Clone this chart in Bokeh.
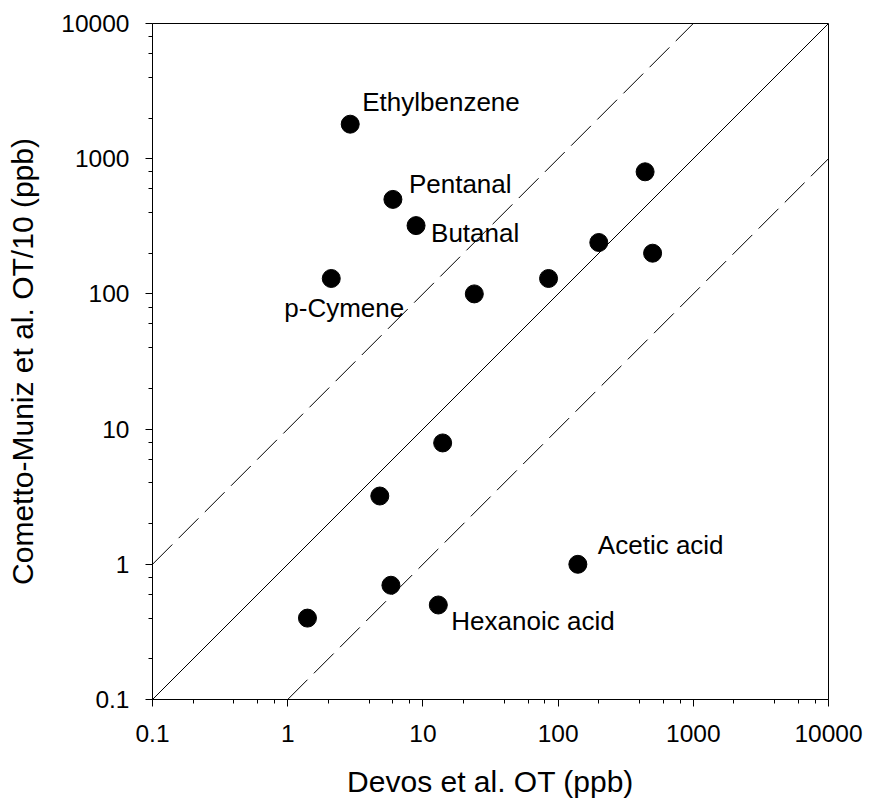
import math
from bokeh.plotting import figure
from bokeh.models import FixedTicker, ColumnDataSource, Range1d
from bokeh.core.properties import value
from bokeh.embed import file_html
from bokeh.resources import INLINE

# ---- data ----
compound = ["Ethylbenzene", "Pentanal", "Butanal", "p-Cymene", "", "", "", "", "",
            "", "", "", "Hexanoic acid", "Acetic acid", ""]
devos_ot = [2.9, 6.0, 8.9, 2.1, 24, 85, 200, 440, 500, 14, 4.8, 5.8, 13, 140, 1.4]
cometto_ot10 = [1800, 500, 320, 130, 100, 130, 240, 800, 200, 7.9, 3.2, 0.7, 0.5, 1.0, 0.4]

# 1:1 line and factor-of-ten lines
one_x = [0.1, 10000]
one_y = [0.1, 10000]
upper_x = [0.1, 1000]
upper_y = [1, 10000]
lower_x = [1, 10000]
lower_y = [0.1, 1000]

tick_values = [0.1, 1, 10, 100, 1000, 10000]
tick_labels = ["0.1", "1", "10", "100", "1000", "10000"]
minor_values = [0.2, 0.4, 0.6, 0.8, 2, 4, 6, 8, 20, 40, 60, 80,
                200, 400, 600, 800, 2000, 4000, 6000, 8000]

x_title = "Devos et al. OT (ppb)"
y_title = "Cometto-Muniz et al. OT/10 (ppb)"

# label placement (screen pixel offsets from point centre)
label_offsets = {
    "Ethylbenzene": (12, -22),
    "Pentanal": (16, -15),
    "Butanal": (15, 7),
    "p-Cymene": (-47, 30),
    "Acetic acid": (20, -19),
    "Hexanoic acid": (13, 16),
}

FONT = "Liberation Sans"

p = figure(width=864, height=801, x_axis_type="log", y_axis_type="log",
           x_range=Range1d(0.1, 10000), y_range=Range1d(0.1, 10000),
           output_backend="svg", toolbar_location=None,
           min_border_left=152, min_border_right=36,
           min_border_top=23, min_border_bottom=102)
p.xgrid.visible = False
p.ygrid.visible = False
p.outline_line_color = "black"
p.outline_line_alpha = 1.0
p.outline_line_width = 1
p.background_fill_color = "white"
p.border_fill_color = "white"

for ax in (p.xaxis[0], p.yaxis[0]):
    ax.ticker = FixedTicker(ticks=tick_values, minor_ticks=minor_values)
    ax.major_label_overrides = {v: s for v, s in zip(tick_values, tick_labels)}
    ax.axis_line_color = "black"
    ax.major_tick_line_color = "black"
    ax.minor_tick_line_color = "black"
    ax.major_tick_out = 7
    ax.major_tick_in = 0
    ax.minor_tick_out = 4
    ax.minor_tick_in = 0
    ax.major_label_text_font = FONT
    ax.major_label_text_font_size = "24.5px"
    ax.major_label_text_color = "black"
    ax.axis_label_text_font = FONT
    ax.axis_label_text_font_size = "30px"
    ax.axis_label_text_font_style = "normal"
    ax.axis_label_text_color = "black"

p.xaxis.axis_label = x_title
p.yaxis.axis_label = y_title
p.xaxis.major_label_standoff = 18
p.yaxis.major_label_standoff = 16
p.xaxis.axis_label_standoff = 20
p.yaxis.axis_label_standoff = 19

p.line(one_x, one_y, line_color="black", line_width=1)
p.line(upper_x, upper_y, line_color="black", line_width=1, line_dash="28 9")
p.line(lower_x, lower_y, line_color="black", line_width=1, line_dash="28 9")

p.scatter(devos_ot, cometto_ot10, size=18, fill_color="black", line_color="black")

lab = dict(x=[], y=[], name=[], dx=[], dy=[])
for n, xv, yv in zip(compound, devos_ot, cometto_ot10):
    if n:
        lab["x"].append(xv)
        lab["y"].append(yv)
        lab["name"].append(n)
        lab["dx"].append(label_offsets[n][0])
        lab["dy"].append(label_offsets[n][1])
p.text(x="x", y="y", text="name", x_offset="dx", y_offset="dy",
       source=ColumnDataSource(lab), text_font=value(FONT),
       text_font_size="26px", text_align="left", text_baseline="alphabetic",
       text_color="black")

open("out.html", "w").write(file_html(p, INLINE))
